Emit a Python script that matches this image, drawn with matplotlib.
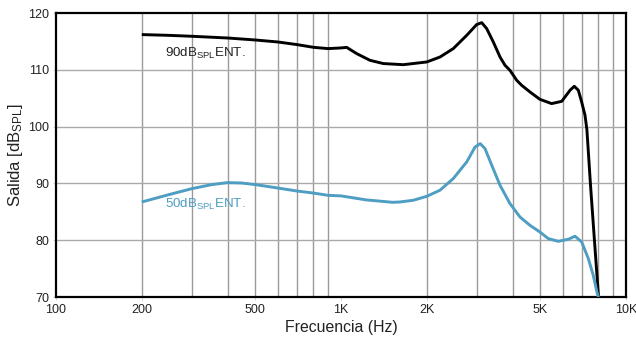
import matplotlib
matplotlib.use("Agg")
from matplotlib import pyplot as plt

plt.rcParams['font.family'] = ['Liberation Sans', 'DejaVu Sans']
plt.rcParams['mathtext.fontset'] = 'custom'
plt.rcParams['mathtext.rm'] = 'Liberation Sans'
plt.rcParams['mathtext.it'] = 'Liberation Sans'

# frequency response at 90 dB SPL input
freq_90 = [200, 248, 300, 400, 500, 600, 700, 800, 900, 1000, 1047, 1135, 1264,
           1407, 1654, 2000, 2225, 2477, 2761, 2992, 3117, 3245, 3423, 3614,
           3762, 3917, 4136, 4305, 4603, 4989, 5483, 5950, 6362, 6585, 6803,
           6990, 7180, 7290, 7507, 7800, 8010]
spl_90 = [116.2, 116.07, 115.9, 115.6, 115.25, 114.9, 114.44, 113.96, 113.73, 113.85,
          113.95, 112.85, 111.67, 111.1, 110.9, 111.38, 112.25, 113.73, 116.07, 117.96,
          118.3, 117.25, 114.9, 112.25, 110.8, 109.9, 108.15, 107.27, 106.1, 104.8,
          104.05, 104.45, 106.4, 107.1, 106.4, 104.33, 102.0, 99.5, 89.7, 78.0, 70.0]

# frequency response at 50 dB SPL input
freq_50 = [200, 248, 300, 352, 400, 448, 500, 600, 700, 800, 900, 1000, 1224,
           1518, 1611, 1794, 2000, 2225, 2477, 2761, 2953, 3080, 3201, 3380,
           3614, 3917, 4247, 4603, 4989, 5338, 5787, 6275, 6622, 6990, 7376,
           7678, 7931, 8010]
spl_50 = [86.73, 88.0, 89.08, 89.79, 90.14, 90.07, 89.79, 89.19, 88.66, 88.3, 87.9,
          87.8, 87.1, 86.67, 86.73, 87.03, 87.73, 88.8, 90.85, 93.77, 96.4, 97.0,
          96.13, 93.2, 89.67, 86.44, 84.08, 82.62, 81.44, 80.28, 79.8, 80.16, 80.7,
          79.7, 76.76, 73.8, 70.6, 70.0]

x_ticks = [100, 200, 500, 1000, 2000, 5000, 10000]
x_tick_labels = ["100", "200", "500", "1K", "2K", "5K", "10K"]
y_ticks = [70, 80, 90, 100, 110, 120]

black = "#000000"
blue = "#4e9dc2"

fig = plt.figure(figsize=(6.36, 3.38), dpi=100)
ax = fig.add_axes([56 / 636, 1 - 297 / 338, 570 / 636, 284 / 338])

ax.set_xscale("log")
ax.set_xlim(100, 10000)
ax.set_ylim(70, 120)

minor = [m * d for d in (100, 1000) for m in range(2, 10)]
for f in minor:
    ax.axvline(f, color="#9a9a9a", lw=1.0, zorder=1)
for y in y_ticks[1:-1]:
    ax.axhline(y, color="#aaaaaa", lw=1.0, zorder=1)

ax.plot(freq_90, spl_90, color=black, lw=2.1, zorder=3,
        solid_capstyle="butt", solid_joinstyle="round")
ax.plot(freq_50, spl_50, color=blue, lw=2.1, zorder=3,
        solid_capstyle="butt", solid_joinstyle="round")

ax.text(242, 112.25, r"90dB$_{\mathregular{SPL}}$ENT.", color="#222222", fontsize=9.6, zorder=4)
ax.text(242, 85.67, r"50dB$_{\mathregular{SPL}}$ENT.", color=blue, fontsize=9.6, zorder=4)

ax.set_xticks(x_ticks)
ax.set_xticklabels(x_tick_labels)
ax.xaxis.set_minor_locator(plt.NullLocator())
ax.set_yticks(y_ticks)
ax.tick_params(axis="both", length=2, width=0.6, color="#cccccc", labelsize=9, pad=3,
               labelcolor="#222222")

for side in ax.spines:
    ax.spines[side].set_linewidth(1.6)
    ax.spines[side].set_color(black)

ax.set_xlabel("Frecuencia (Hz)", fontsize=11.4, color="#222222", labelpad=3)
ax.set_ylabel(r"Salida [dB$_{\mathregular{SPL}}$]", fontsize=12, color="#222222", labelpad=2)

fig.savefig("out.png", dpi=100)
